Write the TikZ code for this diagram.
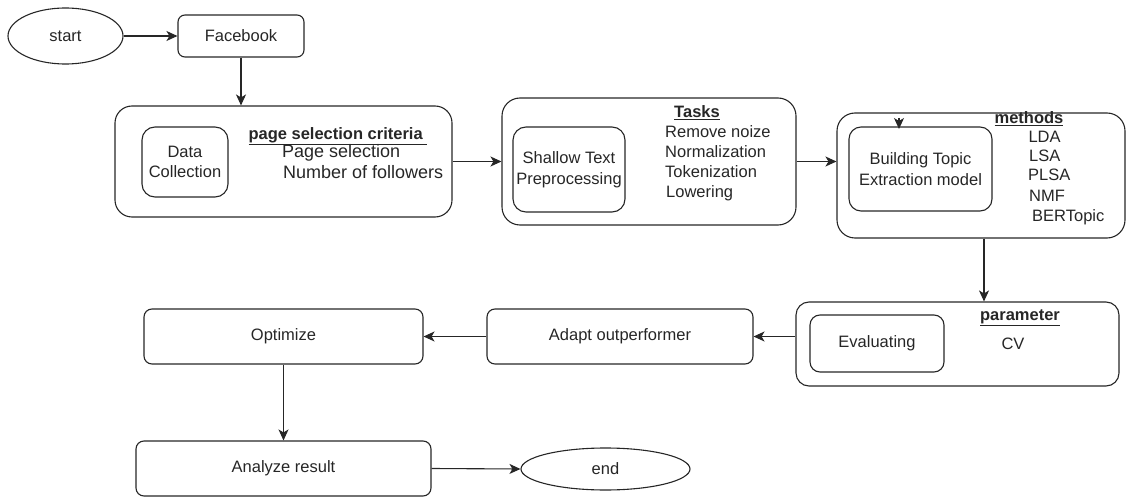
\documentclass[tikz,border=0pt]{standalone}
\usepackage{fontspec}
\setmainfont{Liberation Sans}
\usetikzlibrary{shapes.geometric,arrows.meta}
\begin{document}
\begin{tikzpicture}[x=1pt,y=-1pt,
  every node/.style={font=\fontsize{16.5}{20.5}\selectfont, text=black!85},
  lw/.style={line width=1.1pt, draw=black!85},
  boxr/.style={draw, line width=1.1pt, draw=black!85, rounded corners=#1, inner sep=0pt, align=center},
  boxr/.default=8pt,
  ellnode/.style={ellipse, draw, line width=1.1pt, draw=black!85, inner sep=0pt},
  lab/.style={inner sep=0pt, anchor=base west},
  labc/.style={inner sep=0pt, anchor=base},
  big/.style={font=\fontsize{18}{21}\selectfont},
  arr/.style={line width=1.1pt, draw=black!85, -{Stealth[length=11pt,width=10pt,inset=3pt]}}
]
\useasboundingbox (0,0) rectangle (1127,497);

% top row
\node[ellnode, minimum width=115pt, minimum height=56pt] (start) at (65.5,36) {start};
\node[boxr=7pt, minimum width=126pt, minimum height=42pt] (fb) at (241,36) {Facebook};

% box 1
\node[boxr=17pt, minimum width=337pt, minimum height=111pt] (b1) at (283.5,161.5) {};
\node[boxr=13pt, minimum width=86pt, minimum height=70pt] (dc) at (185,162) {Data\\Collection};
\node[lab] (psc) at (248.3,139.5) {\textbf{\underline{page selection criteria\ }}};
\node[lab, big] (ps) at (282,157.3) {Page selection};
\node[lab, big] (nf) at (283,179) {Number of followers};

% box 2
\node[boxr=18pt, minimum width=294pt, minimum height=127pt] (b2) at (649,161.5) {};
\node[boxr=13pt, minimum width=112pt, minimum height=85pt] (stp) at (569,169.5) {Shallow Text\\Preprocessing};
\node[labc] (tasks) at (697,118) {\textbf{\underline{Tasks}}};
\node[lab] (t1) at (665,137.3) {Remove noize};
\node[lab] (t2) at (665,157.7) {Normalization};
\node[lab] (t3) at (665,178) {Tokenization};
\node[lab] (t4) at (666,197.5) {Lowering};

% box 3
\node[boxr=18pt, minimum width=288pt, minimum height=125pt] (b3) at (981,175.5) {};
\node[boxr=12pt, minimum width=143pt, minimum height=84pt] (btem) at (920.5,169) {Building Topic\\Extraction model};
\node[labc] (meth) at (1029,124) {\textbf{\underline{methods}}};
\node[lab] (m1) at (1028.3,142.3) {LDA};
\node[lab] (m2) at (1029,161.7) {LSA};
\node[lab] (m3) at (1028,180.7) {PLSA};
\node[lab] (m4) at (1029,201.5) {NMF};
\node[lab] (m5) at (1032,221.5) {BERTopic};
\coordinate (dtop) at (899,118);
\coordinate (dtip) at (899,129);

% box 4
\node[boxr=13pt, minimum width=323pt, minimum height=84pt] (b4) at (957.5,344) {};
\node[boxr=10pt, minimum width=134pt, minimum height=57pt] (ev) at (877,343.5) {Evaluating};
\node[labc] (par) at (1020,320) {\textbf{\underline{parameter}}};
\node[labc] (cv) at (1013,349.3) {CV};

% bottom rows
\node[boxr=8pt, minimum width=266pt, minimum height=55pt] (adapt) at (620,336.5) {Adapt outperformer};
\node[boxr=8pt, minimum width=279pt, minimum height=55pt] (opt) at (283.5,336.5) {Optimize};
\node[boxr=8pt, minimum width=295pt, minimum height=55pt] (ana) at (283.5,468.5) {Analyze result};
\node[ellnode, minimum width=169pt, minimum height=42pt] (end) at (605.5,469) {end};

% connectors
\draw[arr] (start.east) -- (fb.west);
\draw[arr] (fb.south) -- (fb.south |- b1.north);
\draw[arr] (b1.east) -- (b2.west);
\draw[arr] (b2.east) -- (b2.east -| b3.west);
\draw[arr] (dtop) -- (dtip);
\draw[arr] ([xshift=3pt]b3.south) -- ([xshift=3pt]b3.south |- b4.north);
\draw[arr] (adapt.east -| b4.west) -- (adapt.east);
\draw[arr] (adapt.west) -- (opt.east);
\draw[arr] (opt.south) -- (ana.north);
\draw[arr] (ana.east) -- (end.west);
\end{tikzpicture}
\end{document}
